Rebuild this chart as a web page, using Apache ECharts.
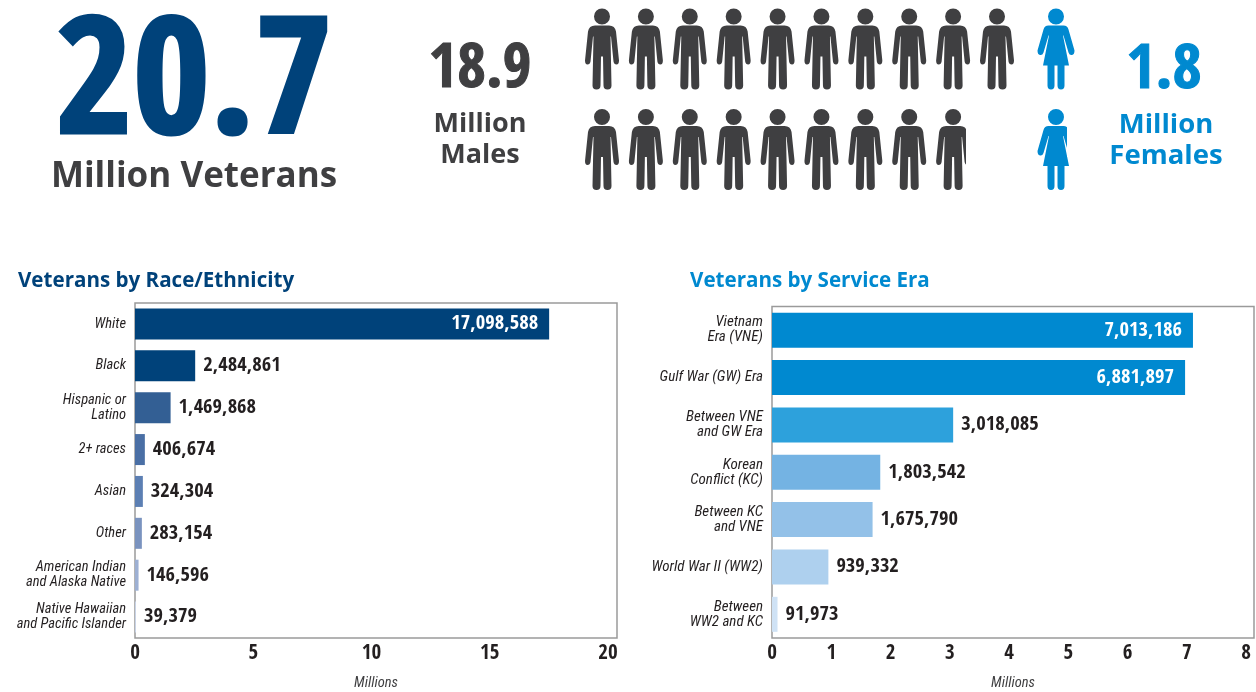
<!DOCTYPE html>
<html><head><meta charset="utf-8">
<style>html,body{margin:0;padding:0;background:#fff}#c{width:1256px;height:692px}</style>
<script src="https://cdn.jsdelivr.net/npm/echarts@6/dist/echarts.min.js"></script>
</head><body><div id="c"></div>
<script>
const raceCategories=['White','Black','Hispanic or\nLatino','2+ races','Asian','Other','American Indian\nand Alaska Native','Native Hawaiian\nand Pacific Islander'];
const raceValues=[17098588,2484861,1469868,406674,324304,283154,146596,39379];
const raceColors=['#00427a','#00427a','#335f94','#4a6fa5','#5c7fb3','#7a93bf','#9db0d3','#c9d4e8'];
const eraCategories=['Vietnam\nEra (VNE)','Gulf War (GW) Era','Between VNE\nand GW Era','Korean\nConflict (KC)','Between KC\nand VNE','World War II (WW2)','Between\nWW2 and KC'];
const eraValues=[7013186,6881897,3018085,1803542,1675790,939332,91973];
const eraColors=['#0089d0','#0089d0','#2da1dc','#74b3e3','#93c1e8','#aed0ee','#cfe2f5'];
const menPerRow=[10,9];
const womenPerRow=[1,1];

const NARROW="'Open Sans Condensed','Roboto Condensed',sans-serif";
const SLIM="'Roboto Condensed',sans-serif";
const WIDE="'Open Sans',sans-serif";
const DARK='#231f20', GREY='#3f3f41', NAVY='#00427a', BLUE='#0089d0';
const MAN='path://M9 8A8 8 0 1 1 25 8A8 8 0 1 1 9 8ZM10 17L24 17Q30 17 31 23L34 52Q34 56 31.5 56Q29 56 28.5 53L26 28L25.5 28L26.5 77Q26.5 81 22.5 81Q18.5 81 18.5 77L18 48L16 48L15.5 77Q15.5 81 11.5 81Q7.5 81 7.5 77L8.5 28L8 28L5.5 53Q5 56 2.5 56Q0 56 0 52L3 23Q4 17 10 17Z';
const WOMAN='path://M10.5 8A8 8 0 1 1 26.5 8A8 8 0 1 1 10.5 8ZM11 17L26 17Q30 17 31 21L37 42Q37 46 34.5 46.5Q32 47 31 44L26 27L25.5 27L31.5 57L27 57L27 77Q27 81 23.5 81Q20 81 20 77L20 57L17 57L17 77Q17 81 13.5 81Q10 81 10 77L10 57L5.5 57L11.5 27L11 27L6 44Q5 47 2.5 46.5Q0 46 0 42L6 21Q7 17 11 17Z';

const fmt=v=>v.toLocaleString('en-US');
const cells=rows=>rows.flatMap((n,r)=>Array.from({length:n},(_,c)=>[c,r]));
const txt=(text,x,y,size,color,family,align,sx,stroke)=>({type:'text',x,y,z:10,scaleX:sx||1,
  style:{x:0,y:0,text,fill:color,font:`bold ${size}px ${family}`,textAlign:align||'center',textVerticalAlign:'middle',
    stroke:stroke?color:null,lineWidth:stroke||0}});

function barSeries(values,colors,xi,yi,insideMin){
  return {type:'bar',xAxisIndex:xi,yAxisIndex:yi,barWidth:yi===0?31:35,silent:true,
    data:values.map((v,i)=>({value:v/1e6,itemStyle:{color:colors[i]},
      label:{show:true,position:v>=insideMin?'insideRight':'right',distance:v>=insideMin?11:8,
        color:v>=insideMin?'#fff':DARK,fontFamily:NARROW,fontWeight:'bold',fontSize:20.5,
        formatter:()=>fmt(v)}}))};
}
const hiddenValue=(grid,max)=>({type:'value',gridIndex:grid,min:0,max,show:false,position:'bottom'});
const shownValue=(grid,max,interval)=>({type:'value',gridIndex:grid,min:0,max,interval,position:'bottom',
  axisLine:{show:false},axisTick:{show:false},splitLine:{show:false},
  name:'Millions',nameLocation:'middle',nameGap:38,
  nameTextStyle:{fontFamily:SLIM,fontStyle:'italic',fontWeight:'normal',fontSize:14.5,color:GREY},
  axisLabel:{showMaxLabel:false,showMinLabel:true,color:DARK,fontFamily:NARROW,fontWeight:'bold',fontSize:21,margin:5}});
const catAxis=(grid,data,size)=>({type:'category',gridIndex:grid,inverse:true,data,
  axisLine:{show:false},axisTick:{show:false},splitLine:{show:false},
  axisLabel:{color:DARK,fontFamily:SLIM,fontStyle:'italic',fontWeight:'normal',fontSize:size,lineHeight:15,margin:9,align:'right'}});
const plain=(grid,min,max)=>({type:'value',gridIndex:grid,min,max,show:false});

const chart=echarts.init(document.getElementById('c'),null,{renderer:'canvas'});
chart.setOption({
  animation:false,backgroundColor:'#fff',
  grid:[
    {left:135,top:303,width:482,height:335,show:true,borderColor:'#9a9a9a',borderWidth:1.5,backgroundColor:'transparent',outerBoundsMode:'none'},
    {left:772,top:306.5,width:482,height:331.5,show:true,borderColor:'#9a9a9a',borderWidth:1.5,backgroundColor:'transparent',outerBoundsMode:'none'},
    {left:602,top:49,width:395,height:100.5,outerBoundsMode:'none'},
    {left:1046,top:49,width:20,height:100.5,outerBoundsMode:'none'}
  ],
  xAxis:[
    hiddenValue(0,19.9), shownValue(0,20.38,5),
    hiddenValue(1,8.03), shownValue(1,8.135,1),
    plain(2,0,9), plain(3,-1,1)
  ],
  yAxis:[
    catAxis(0,raceCategories,14.5), catAxis(1,eraCategories,15),
    Object.assign(plain(2,0,1),{inverse:true}),
    Object.assign(plain(3,0,1),{inverse:true})
  ],
  series:[
    barSeries(raceValues,raceColors,0,0,5000000),
    barSeries(eraValues,eraColors,2,1,5000000),
    {type:'scatter',xAxisIndex:4,yAxisIndex:2,symbol:MAN,symbolSize:[34,81],silent:true,clip:false,
      itemStyle:{color:GREY,opacity:1},data:cells(menPerRow)},
    {type:'scatter',xAxisIndex:5,yAxisIndex:3,symbol:WOMAN,symbolSize:[37,81],silent:true,clip:false,
      itemStyle:{color:BLUE,opacity:1},data:womenPerRow.flatMap((n,r)=>Array.from({length:n},()=>[0,r]))}
  ],
  graphic:[
    txt('20.7',194,91,162,'#00427a',NARROW,'center',1.03,3),
    txt('Million Veterans',194,177,35,GREY,WIDE),
    txt('18.9',480,71,62,GREY,NARROW,'center',1.0,1),
    txt('Million',480,124,27,GREY,WIDE),
    txt('Males',480,155,27,GREY,WIDE),
    txt('1.8',1164,72,62,BLUE,NARROW,'center',1.02,1),
    txt('Million',1166,125,27.5,BLUE,WIDE),
    txt('Females',1166,156,27.5,BLUE,WIDE),
    txt('Veterans by Race/Ethnicity',18,281,21,NAVY,WIDE,'left',0.98),
    txt('Veterans by Service Era',690,281,21,BLUE,WIDE,'left',0.98),
    {type:'rect',z:20,shape:{x:966,y:118,width:8,height:48},style:{fill:'#fff'}},
    {type:'rect',z:20,shape:{x:1067,y:118,width:10,height:39},style:{fill:'#fff'}}
  ]
});
</script></body></html>
